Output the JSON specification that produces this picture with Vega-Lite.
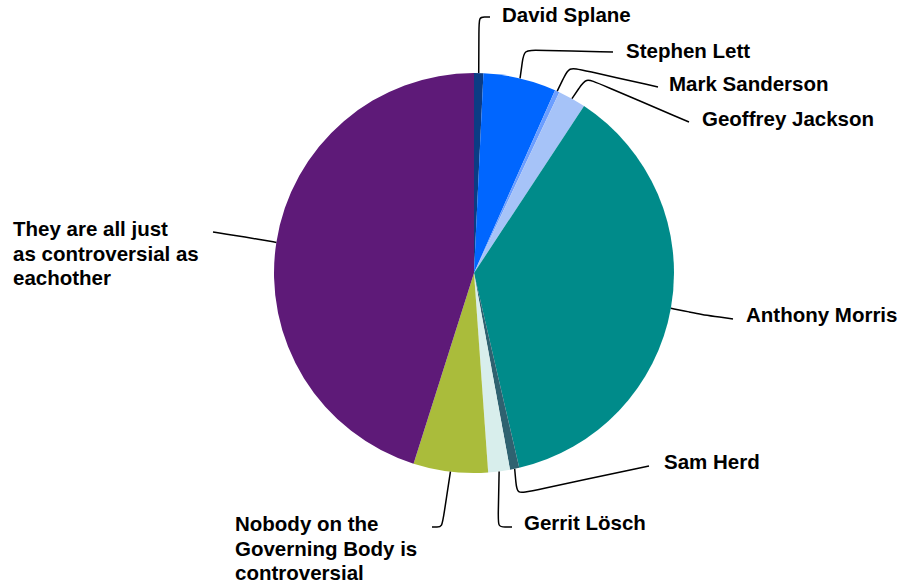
{
  "$schema": "https://vega.github.io/schema/vega-lite/v6.json",
  "width": 902,
  "height": 588,
  "padding": 0,
  "autosize": "none",
  "background": "white",
  "config": {"view": {"stroke": null}},
  "data": {
    "values": [
      {"name": "David Splane", "votes": 6},
      {"name": "Stephen Lett", "votes": 47},
      {"name": "Mark Sanderson", "votes": 3},
      {"name": "Geoffrey Jackson", "votes": 18},
      {"name": "Anthony Morris", "votes": 296},
      {"name": "Sam Herd", "votes": 6},
      {"name": "Gerrit Lösch", "votes": 14},
      {"name": "Nobody on the Governing Body is controversial", "votes": 48},
      {"name": "They are all just as controversial as eachother", "votes": 360}
    ]
  },
  "transform": [
    {"window": [{"op": "row_number", "as": "k"}, {"op": "sum", "field": "votes", "as": "cum"}]},
    {"joinaggregate": [{"op": "sum", "field": "votes", "as": "total"}]},
    {"calculate": "2*PI*(datum.cum - datum.votes/2)/datum.total", "as": "mid"}
  ],
  "layer": [
    {
      "mark": {"type": "arc", "outerRadius": 200},
      "encoding": {
        "x": {"datum": 0, "type": "quantitative", "scale": {"domain": [-2.37, 2.14], "nice": false, "zero": false}, "axis": null},
        "y": {"datum": 0, "type": "quantitative", "scale": {"domain": [-1.575, 1.365], "nice": false, "zero": false}, "axis": null},
        "theta": {"field": "votes", "type": "quantitative", "stack": true},
        "order": {"field": "k", "type": "quantitative"},
        "color": {
          "field": "name",
          "type": "nominal",
          "legend": null,
          "scale": {
            "domain": ["David Splane", "Stephen Lett", "Mark Sanderson", "Geoffrey Jackson", "Anthony Morris", "Sam Herd", "Gerrit Lösch", "Nobody on the Governing Body is controversial", "They are all just as controversial as eachother"],
            "range": ["#0B3C84", "#0066FF", "#6B9EFF", "#A6C3F8", "#008B8A", "#2F6270", "#D8EEEC", "#AABC3B", "#5E1A78"]
          }
        }
      }
    },
    {
      "transform": [
        {"calculate": "sin(datum.mid)", "as": "x0"},
        {"calculate": "cos(datum.mid)", "as": "y0"},
        {"calculate": "[0.025,0.25,0.475,0.56,1.14,0.215,0.12,-0.16,-1.145][datum.k-1]", "as": "cx"},
        {"calculate": "[1.28,1.115,1.03,0.975,-0.2075,-1.105,-1.27,-1.27,0.18][datum.k-1]", "as": "cy"},
        {"calculate": "[0.08,0.695,0.92,1.075,1.295,0.875,0.19,-0.21,-1.305][datum.k-1]", "as": "ex"},
        {"calculate": "[1.28,1.105,0.93,0.755,-0.23,-0.965,-1.27,-1.27,0.205][datum.k-1]", "as": "ey"},
        {"calculate": "sqrt(pow(datum.x0-datum.cx,2)+pow(datum.y0-datum.cy,2))", "as": "la"},
        {"calculate": "sqrt(pow(datum.ex-datum.cx,2)+pow(datum.ey-datum.cy,2))", "as": "lb"},
        {"calculate": "min(0.06, datum.la/2)/datum.la", "as": "fa"},
        {"calculate": "min(0.06, datum.lb/2)/datum.lb", "as": "fb"},
        {"calculate": "datum.cx + (datum.x0-datum.cx)*datum.fa", "as": "ax"},
        {"calculate": "datum.cy + (datum.y0-datum.cy)*datum.fa", "as": "ay"},
        {"calculate": "datum.cx + (datum.ex-datum.cx)*datum.fb", "as": "bx"},
        {"calculate": "datum.cy + (datum.ey-datum.cy)*datum.fb", "as": "by"},
        {"calculate": "0", "as": "s0"},
        {"calculate": "1", "as": "s1"},
        {"calculate": "2", "as": "s2"},
        {"calculate": "3", "as": "s3"},
        {"calculate": "4", "as": "s4"},
        {"fold": ["s0", "s1", "s2", "s3", "s4"], "as": ["key", "step"]},
        {"calculate": "datum.step==0 ? datum.x0 : datum.step==1 ? datum.ax : datum.step==2 ? datum.cx : datum.step==3 ? datum.bx : datum.ex", "as": "px"},
        {"calculate": "datum.step==0 ? datum.y0 : datum.step==1 ? datum.ay : datum.step==2 ? datum.cy : datum.step==3 ? datum.by : datum.ey", "as": "py"}
      ],
      "mark": {"type": "line", "interpolate": "basis", "color": "#000000", "strokeWidth": 1.5},
      "encoding": {
        "x": {"field": "px", "type": "quantitative", "scale": {"domain": [-2.37, 2.14], "nice": false, "zero": false}, "axis": null},
        "y": {"field": "py", "type": "quantitative", "scale": {"domain": [-1.575, 1.365], "nice": false, "zero": false}, "axis": null},
        "detail": {"field": "name", "type": "nominal"},
        "order": {"field": "step", "type": "quantitative"}
      }
    },
    {
      "transform": [
        {"calculate": "[0.14,0.76,0.975,1.14,1.36,0.95,0.25,-1.195,-2.305][datum.k-1]", "as": "tx"},
        {"calculate": "[1.285,1.105,0.94,0.765,-0.215,-0.95,-1.255,-1.26,0.215][datum.k-1]", "as": "ty"},
        {"calculate": "datum.k==9 ? 'They are all just\\nas controversial as\\neachother' : datum.k==8 ? 'Nobody on the\\nGoverning Body is\\ncontroversial' : datum.name", "as": "label"}
      ],
      "mark": {"type": "text", "align": "left", "baseline": "middle", "font": "Liberation Sans", "fontWeight": "bold", "fontSize": 20.5, "lineHeight": 24.5, "lineBreak": "\n", "color": "#000000"},
      "encoding": {
        "x": {"field": "tx", "type": "quantitative", "scale": {"domain": [-2.37, 2.14], "nice": false, "zero": false}, "axis": null},
        "y": {"field": "ty", "type": "quantitative", "scale": {"domain": [-1.575, 1.365], "nice": false, "zero": false}, "axis": null},
        "text": {"field": "label", "type": "nominal"}
      }
    }
  ]
}
